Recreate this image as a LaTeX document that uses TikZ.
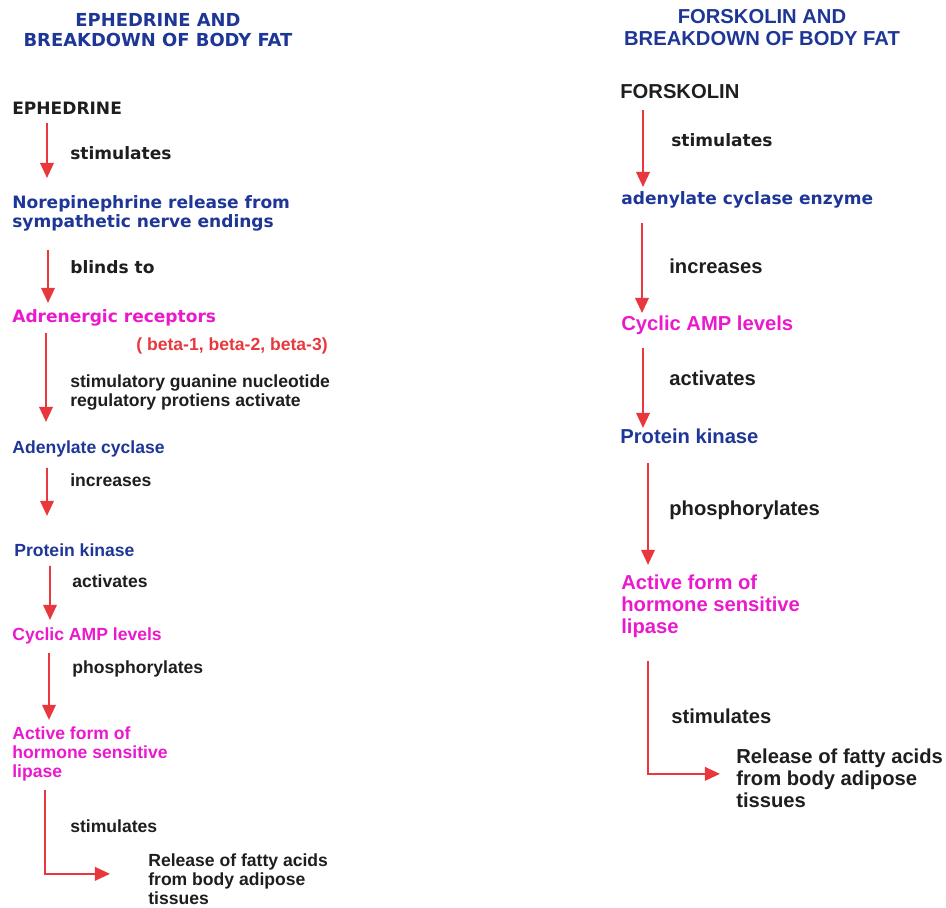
\documentclass[tikz,border=0pt]{standalone}
\usepackage{fontspec}
\setmainfont{Liberation Sans}
\newfontfamily\verdfont{DejaVu Sans}
\usetikzlibrary{positioning,arrows.meta}
\definecolor{hdblue}{RGB}{30,55,150}
\definecolor{lipink}{RGB}{235,25,205}
\definecolor{arred}{RGB}{232,56,62}
\definecolor{txtblack}{RGB}{30,30,30}

\begin{document}
\begin{tikzpicture}[x=0.02cm, y=-0.02cm,
arr/.style={-{Triangle[width=0.27cm,length=0.3cm]}, arred, line width=1.1pt},
vlab/.style={inner sep=0pt, anchor=west, align=left,
font=\verdfont\bfseries\fontsize{9.7}{10.8}\selectfont},
alab/.style={inner sep=0pt, anchor=west, align=left,
font=\bfseries\fontsize{10}{10.8}\selectfont},
blab/.style={inner sep=0pt, anchor=west, align=left,
font=\bfseries\fontsize{11.5}{12.5}\selectfont}]
\useasboundingbox (0,0) rectangle (946,907);
\node[vlab, hdblue, anchor=center, align=center, font=\verdfont\bfseries\fontsize{10.2}{11.3}\selectfont] (LT) at (158,30) {EPHEDRINE AND\\BREAKDOWN OF BODY FAT};
\node[vlab, txtblack] (E) at (12,108) {EPHEDRINE};
\node[vlab, hdblue] (N) [below = 2.11cm of E.west, anchor=west] {Norepinephrine release from\\sympathetic nerve endings};
\node[vlab, lipink] (AR) [below = 2.09cm of N.west, anchor=west] {Adrenergic receptors};
\node[alab, hdblue] (AC) [below = 2.62cm of AR.west, anchor=west] {Adenylate cyclase};
\node[alab, hdblue] (PK) [below right = 2.02cm and 0.04cm of AC.west, anchor=west] {Protein kinase};
\node[alab, lipink] (CA) [below left = 1.72cm and 0.04cm of PK.west, anchor=west] {Cyclic AMP levels};
\node[alab, lipink] (AF) [below = 2.36cm of CA.west, anchor=west] {Active form of\\hormone sensitive\\lipase};
\node[alab, txtblack] (RL) [below right = 2.5cm and 2.72cm of AF.west, anchor=west] {Release of fatty acids\\from body adipose\\tissues};
\node[vlab, txtblack] (l1) [below right = 0.9cm and 1.16cm of E.west, anchor=west] {stimulates};
\node[vlab, txtblack] (l2) [below right = 1.07cm and 1.16cm of N.west, anchor=west] {blinds to};
\node[alab, arred] (beta) [below right = 0.56cm and 2.48cm of AR.west, anchor=west] {( beta-1, beta-2, beta-3)};
\node[alab, txtblack] (l3) [below right = 1.49cm and 1.16cm of AR.west, anchor=west] {stimulatory guanine nucleotide\\regulatory protiens activate};
\node[alab, txtblack] (l4) [below right = 0.62cm and 1.16cm of AC.west, anchor=west] {increases};
\node[alab, txtblack] (l5) [below right = 0.62cm and 1.16cm of PK.west, anchor=west] {activates};
\node[alab, txtblack] (l6) [below right = 0.66cm and 1.2cm of CA.west, anchor=west] {phosphorylates};
\node[alab, txtblack] (l7) [below right = 1.44cm and 1.16cm of AF.west, anchor=west] {stimulates};
\draw[arr] ([shift={(35,15)}]E.west) -- ([shift={(35,-35.5)}]N.west);
\draw[arr] ([shift={(36,36.5)}]N.west) -- ([shift={(36,-15)}]AR.west);
\draw[arr] ([shift={(34,15)}]AR.west) -- ([shift={(34,-27)}]AC.west);
\draw[arr] ([shift={(35,19)}]AC.west) -- ([shift={(33,-34)}]PK.west);
\draw[arr] ([shift={(36,16)}]PK.west) -- ([shift={(38,-16)}]CA.west);
\draw[arr] ([shift={(37,17)}]CA.west) -- ([shift={(37,-34)}]AF.west);
\draw[arr] ([shift={(33,36)}]AF.west) |- ([shift={(-38,-5)}]RL.west);

\node[blab, hdblue, anchor=center, align=center] (RT) at (762,28) {FORSKOLIN AND\\BREAKDOWN OF BODY FAT};
\node[blab, txtblack] (F) at (620,92) {FORSKOLIN};
\node[vlab, hdblue] (AE) [below right = 2.16cm and 0.02cm of F.west, anchor=west] {adenylate cyclase enzyme};
\node[blab, lipink] (CR) [below = 2.5cm of AE.west, anchor=west] {Cyclic AMP levels};
\node[blab, hdblue] (PR) [below left = 2.22cm and 0.02cm of CR.west, anchor=west] {Protein kinase};
\node[blab, lipink] (AFR) [below right = 3.4cm and 0.02cm of PR.west, anchor=west] {Active form of\\hormone sensitive\\lipase};
\node[blab, txtblack] (RR) [below right = 3.44cm and 2.3cm of AFR.west, anchor=west] {Release of fatty acids\\from body adipose\\tissues};
\node[vlab, txtblack] (r1) [below right = 0.96cm and 1.02cm of F.west, anchor=west] {stimulates};
\node[blab, txtblack] (r2) [below right = 1.32cm and 0.96cm of AE.west, anchor=west] {increases};
\node[blab, txtblack] (r3) [below right = 1.06cm and 0.96cm of CR.west, anchor=west] {activates};
\node[blab, txtblack] (r4) [below right = 1.48cm and 0.98cm of PR.west, anchor=west] {phosphorylates};
\node[blab, txtblack] (r5) [below right = 2.2cm and 1.0cm of AFR.west, anchor=west] {stimulates};
\draw[arr] ([shift={(23,18)}]F.west) -- ([shift={(22,-13)}]AE.west);
\draw[arr] ([shift={(21,23)}]AE.west) -- ([shift={(21,-12)}]CR.west);
\draw[arr] ([shift={(22,23)}]CR.west) -- ([shift={(23,-8)}]PR.west);
\draw[arr] ([shift={(28,27)}]PR.west) -- ([shift={(27,-41)}]AFR.west);
\draw[arr] ([shift={(27,55)}]AFR.west) |- ([shift={(-16,-4)}]RR.west);
\end{tikzpicture}
\end{document}
